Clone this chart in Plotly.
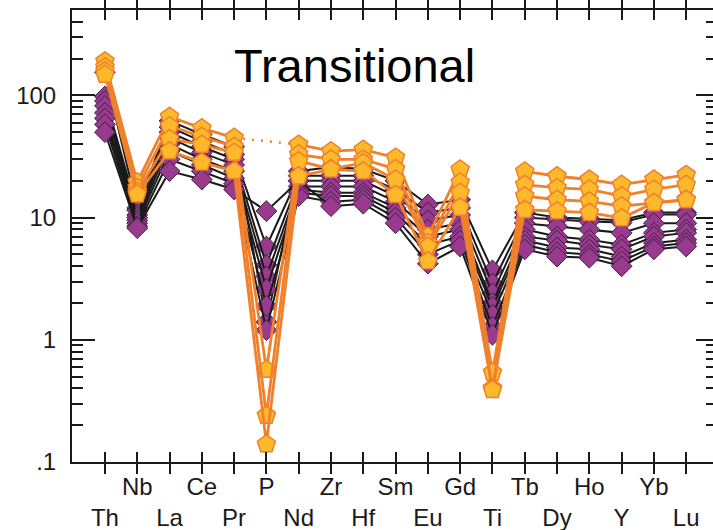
import plotly.graph_objects as go
import math

elements = ["Th", "Nb", "La", "Ce", "Pr", "P", "Nd", "Zr", "Hf", "Sm",
            "Eu", "Gd", "Ti", "Tb", "Dy", "Ho", "Y", "Yb", "Lu"]

# Primitive-mantle normalised values, diamond group (black lines)
diamond_samples = [
    [155, 12.0, 62, 48, 38, 1.4, 24, 26, 25, 20, 12.8, 14.0, 3.7, 11.0, 10.0, 9.8, 9.5, 11.0, 11.0],
    [98, 11.5, 55, 42, 33, 5.8, 22, 22, 22, 17, 11.0, 12.0, 2.9, 10.0, 9.6, 9.3, 9.1, 10.6, 10.6],
    [90, 10.5, 50, 38, 30, 4.1, 20, 20, 20, 15, 9.5, 10.5, 2.4, 9.0, 8.5, 8.0, 7.5, 9.0, 9.0],
    [82, 10.0, 45, 34, 27, 3.3, 18, 18, 18, 13.5, 8.0, 9.0, 2.0, 8.0, 7.0, 6.6, 6.0, 7.5, 8.0],
    [72, 9.5, 40, 30, 24, 2.6, 17, 16, 16, 12, 7.0, 8.0, 1.86, 7.0, 6.5, 6.0, 5.5, 7.0, 7.5],
    [65, 9.0, 35, 27, 21, 1.9, 16, 15, 15, 11, 6.0, 7.0, 1.6, 6.5, 5.7, 5.5, 4.8, 6.2, 6.6],
    [58, 8.5, 30, 24, 19, 1.2, 15, 13.5, 14, 10, 5.0, 6.5, 1.28, 6.0, 5.2, 5.0, 4.4, 5.8, 6.2],
    [50, 8.2, 24, 20.5, 17, 11.3, 20, 12.4, 13, 9, 4.2, 5.8, 1.1, 5.5, 4.8, 4.7, 4.0, 5.5, 5.8],
]

# Pentagon group (orange lines); None = not analysed
pentagon_samples = [
    [190, 19.5, 67, 54, 45, None, 39.6, 35, 36, 31, 7.0, 24.8, 0.40, 23.9, 21.8, 20.5, 18.6, 20.5, 22.4],
    [170, 17.5, 56, 46, 38, 0.57, 33, 30, 30, 25, 6.2, 19.4, 0.54, 18.6, 17.5, 17.0, 15.0, 17.0, 18.6],
    [158, 16.3, 44, 39.6, 34, 0.24, 29, 25, 28, 20.5, 5.8, 16.0, 0.40, 15.0, 14.0, 13.6, 12.4, 13.2, 14.0],
    [148, 15.5, 35, 28.3, 24, 0.14, 21.8, 24.8, 24, 15.4, 4.4, 12.1, 0.39, 11.6, 11.3, 11.0, 9.9, 13.2, 14.0],
]

panel_title = "Transitional"
y_major = [0.1, 1, 10, 100]
y_major_text = [".1", "1", "10", "100"]

FONT = "Liberation Sans, Arial, sans-serif"
PURPLE = "#9A3A8E"
PURPLE_EDGE = "#3B2140"
ORANGE = "#F0802C"
YELLOW = "#FDB92B"

xs = list(range(len(elements)))
fig = go.Figure()

for vals in diamond_samples:
    fig.add_trace(go.Scatter(
        x=xs, y=vals, mode="lines+markers",
        line=dict(color="#1a1a1a", width=2),
        marker=dict(symbol="diamond", size=16, color=PURPLE,
                    line=dict(color=PURPLE_EDGE, width=1)),
        showlegend=False, hoverinfo="skip"))

for vals in pentagon_samples:
    # dotted bridge across missing values
    for i, v in enumerate(vals):
        if v is None and 0 < i < len(vals) - 1:
            fig.add_trace(go.Scatter(
                x=[xs[i - 1], xs[i + 1]], y=[vals[i - 1], vals[i + 1]],
                mode="lines", line=dict(color=ORANGE, width=2.5, dash="2px,7px"),
                showlegend=False, hoverinfo="skip"))
    fig.add_trace(go.Scatter(
        x=xs, y=vals, mode="lines+markers",
        line=dict(color=ORANGE, width=2.8),
        marker=dict(symbol="pentagon", size=19, color=YELLOW,
                    line=dict(color=ORANGE, width=1.5)),
        showlegend=False, hoverinfo="skip"))

# invisible trace so the right-hand axis is drawn
fig.add_trace(go.Scatter(x=[0], y=[1], yaxis="y2", mode="markers",
                         marker=dict(opacity=0), showlegend=False, hoverinfo="skip"))

ticktext = [("<br>" + e) if i % 2 == 0 else e for i, e in enumerate(elements)]

y_minor = []
for d in [0.1, 1, 10, 100]:
    for m in range(2, 10):
        v = d * m
        if v <= 500:
            y_minor.append(v)

yrange = [-1, math.log10(500)]

fig.update_layout(
    width=713, height=530,
    margin=dict(l=72, r=0, t=10, b=68),
    paper_bgcolor="white", plot_bgcolor="white",
    font=dict(family=FONT, color="#1a1a1a"),
    xaxis=dict(
        range=[-1.02, 18.83], tickmode="array", tickvals=xs, ticktext=ticktext,
        tickangle=0,
        ticks="inside", ticklen=10, tickwidth=2, tickcolor="#1a1a1a",
        showline=True, linecolor="#1a1a1a", linewidth=2, mirror="allticks",
        showgrid=False, zeroline=False, ticklabelstandoff=2,
        tickfont=dict(family=FONT, size=24, color="#1a1a1a"),
    ),
    yaxis=dict(
        type="log", range=yrange, tickmode="array",
        tickvals=y_major, ticktext=y_major_text,
        ticks="inside", ticklen=23, tickwidth=2, tickcolor="#1a1a1a",
        minor=dict(tickmode="array", tickvals=y_minor, ticks="inside",
                   ticklen=11, tickwidth=2, tickcolor="#1a1a1a", showgrid=False),
        showline=True, linecolor="#1a1a1a", linewidth=2,
        showgrid=False, zeroline=False, ticklabelstandoff=9,
        tickfont=dict(family=FONT, size=24, color="#1a1a1a"),
    ),
    yaxis2=dict(
        type="log", range=yrange, overlaying="y", side="right",
        tickmode="array", tickvals=y_major, showticklabels=False,
        ticks="inside", ticklen=17, tickwidth=2, tickcolor="#1a1a1a",
        minor=dict(tickmode="array", tickvals=y_minor, ticks="inside",
                   ticklen=7, tickwidth=2, tickcolor="#1a1a1a", showgrid=False),
        showline=False, showgrid=False, zeroline=False,
    ),
    annotations=[dict(
        text=panel_title, xref="paper", yref="paper", x=0.44, y=0.878,
        xanchor="center", yanchor="middle", showarrow=False,
        font=dict(family=FONT, size=47, color="black"))],
)

fig.write_html("out.html")
